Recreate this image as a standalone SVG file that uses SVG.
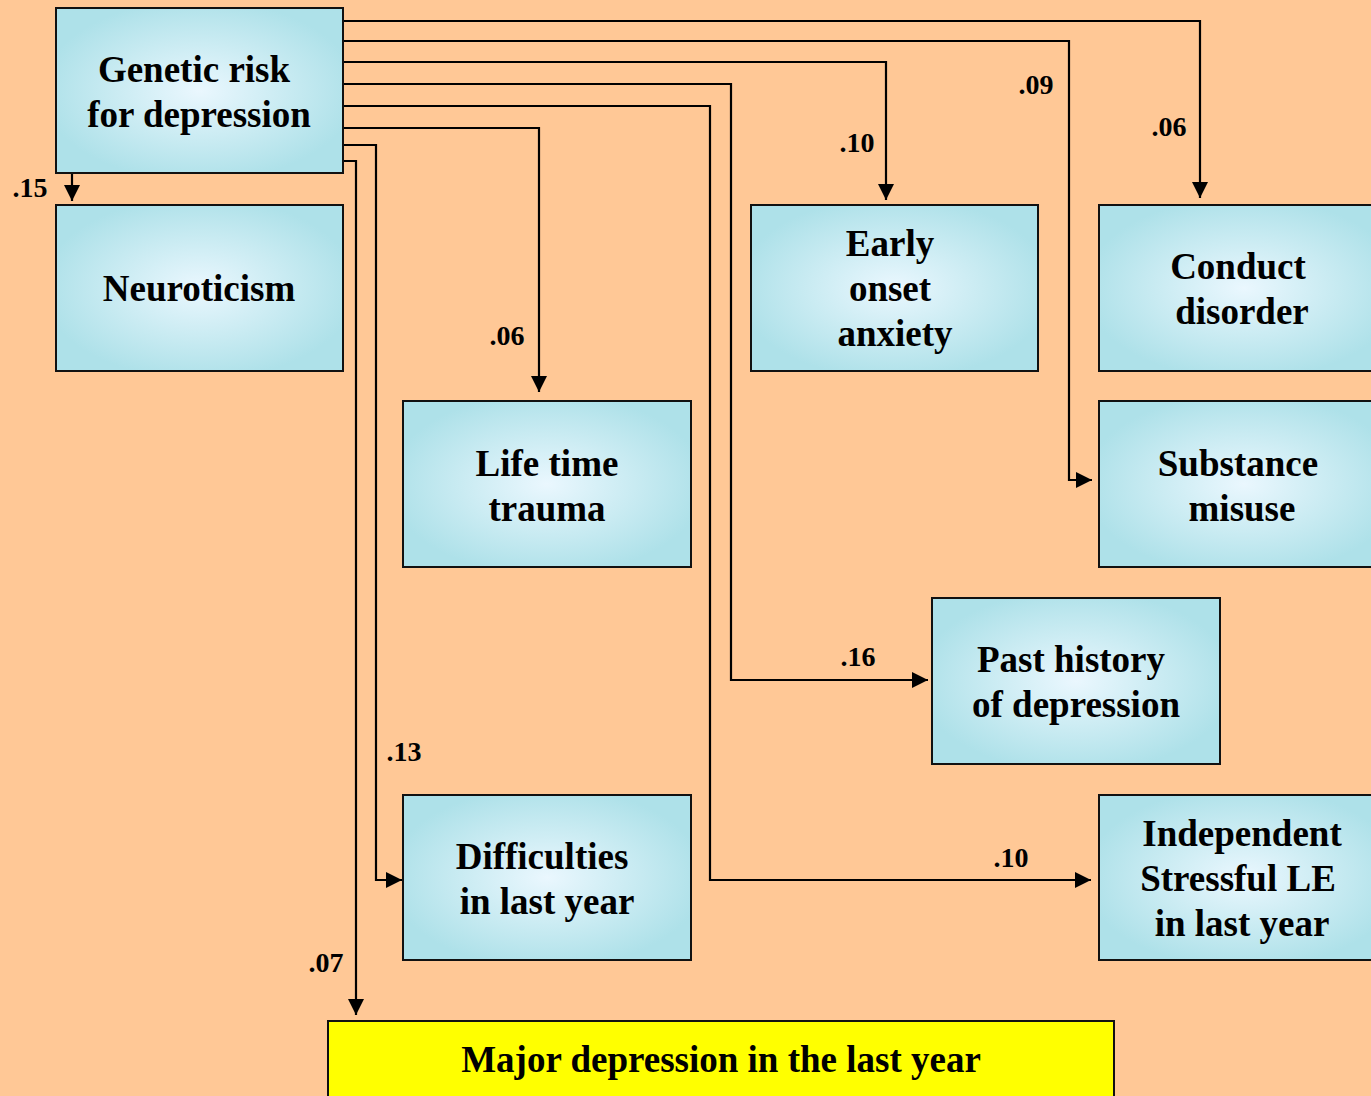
<svg xmlns="http://www.w3.org/2000/svg" width="1371" height="1096" viewBox="0 0 1371 1096">
<defs>
<radialGradient id="g" cx="50%" cy="50%" r="55%">
<stop offset="0" stop-color="#EAF7FE"/>
<stop offset="0.55" stop-color="#C9EBF2"/>
<stop offset="1" stop-color="#AEE1E9"/>
</radialGradient>
<marker id="ah" markerUnits="userSpaceOnUse" markerWidth="17" markerHeight="16" refX="16" refY="8" orient="auto">
<path d="M0,0 L16,8 L0,16 z" fill="#000"/>
</marker>
</defs>
<style>
.box{fill:url(#g);stroke:#111;stroke-width:2}
.t{font-family:"Liberation Serif","Times New Roman",serif;font-weight:bold;font-size:37px;fill:#000;text-anchor:middle}
.l{font-family:"Liberation Serif","Times New Roman",serif;font-weight:bold;font-size:28px;fill:#000;text-anchor:middle}
.c{fill:none;stroke:#000;stroke-width:2.2;marker-end:url(#ah)}
</style>
<rect width="1371" height="1096" fill="#FFC896"/>
<g id="connectors">
<path class="c" d="M343,21 H1200 V198"/>
<path class="c" d="M343,41 H1069 V480 H1092"/>
<path class="c" d="M343,62 H886 V200"/>
<path class="c" d="M343,84 H731 V680 H928"/>
<path class="c" d="M343,106 H710 V880 H1091"/>
<path class="c" d="M343,128 H539 V392"/>
<path class="c" d="M343,145 H376 V880 H402"/>
<path class="c" d="M343,161 H356 V1015"/>
<path class="c" d="M72,173 V201"/>
</g>
<g id="labels">
<text class="l" x="30" y="197">.15</text>
<text class="l" x="507" y="345">.06</text>
<text class="l" x="857" y="152">.10</text>
<text class="l" x="1036" y="94">.09</text>
<text class="l" x="1169" y="136">.06</text>
<text class="l" x="858" y="666">.16</text>
<text class="l" x="404" y="761">.13</text>
<text class="l" x="1011" y="867">.10</text>
<text class="l" x="326" y="972">.07</text>
</g>
<g id="genetic">
<rect class="box" x="56" y="8" width="287" height="165"/>
<text class="t" x="194" y="82">Genetic risk</text>
<text class="t" x="199" y="127">for depression</text>
</g>
<g id="neuroticism">
<rect class="box" x="56" y="205" width="287" height="166"/>
<text class="t" x="199" y="301">Neuroticism</text>
</g>
<g id="lifetime">
<rect class="box" x="403" y="401" width="288" height="166"/>
<text class="t" x="547" y="476">Life time</text>
<text class="t" x="547" y="521">trauma</text>
</g>
<g id="early">
<rect class="box" x="751" y="205" width="287" height="166"/>
<text class="t" x="890" y="256">Early</text>
<text class="t" x="890" y="301">onset</text>
<text class="t" x="895" y="346">anxiety</text>
</g>
<g id="conduct">
<rect class="box" x="1099" y="205" width="290" height="166"/>
<text class="t" x="1238" y="279">Conduct</text>
<text class="t" x="1242" y="324">disorder</text>
</g>
<g id="substance">
<rect class="box" x="1099" y="401" width="290" height="166"/>
<text class="t" x="1238" y="476">Substance</text>
<text class="t" x="1242" y="521">misuse</text>
</g>
<g id="past">
<rect class="box" x="932" y="598" width="288" height="166"/>
<text class="t" x="1071" y="672">Past history</text>
<text class="t" x="1076" y="717">of depression</text>
</g>
<g id="difficulties">
<rect class="box" x="403" y="795" width="288" height="165"/>
<text class="t" x="542" y="869">Difficulties</text>
<text class="t" x="547" y="914">in last year</text>
</g>
<g id="independent">
<rect class="box" x="1099" y="795" width="290" height="165"/>
<text class="t" x="1242" y="846">Independent</text>
<text class="t" x="1238" y="891">Stressful LE</text>
<text class="t" x="1242" y="936">in last year</text>
</g>
<g id="major">
<rect x="328" y="1021" width="786" height="90" fill="#FFFF00" stroke="#111" stroke-width="2"/>
<text class="t" x="721" y="1072">Major depression in the last year</text>
</g>
</svg>
